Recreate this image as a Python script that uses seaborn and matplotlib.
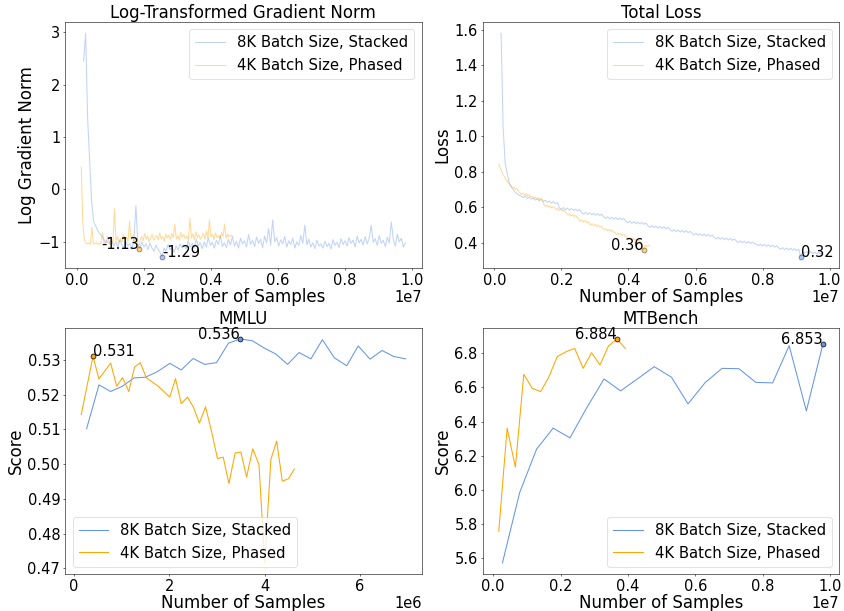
import numpy as np
import matplotlib
matplotlib.use("Agg")
import matplotlib.pyplot as plt
from matplotlib.ticker import MultipleLocator
import seaborn as sns

LABEL_8K = "8K Batch Size, Stacked"
LABEL_4K = "4K Batch Size, Phased"
COLOR_8K = "#6495ED"
COLOR_4K = "#FFA500"

# Training logs: sample count = start + step * log index
TRAIN_START_8K = 2.0e5
TRAIN_STEP_8K = 6.0e4
TRAIN_START_4K = 1.3e5
TRAIN_STEP_4K = 4.5e4

log_grad_norm_8k = [
    2.45, 2.98, 1.35, 0.55, -0.25, -0.62, -0.70, -0.78, -0.85, -0.88,
    -0.95, -1.02, -0.90, -1.05, -0.98, -1.08, -1.00, -1.10, -0.96, -1.06,
    -1.12, -0.99, -1.08, -1.03, -1.14, -0.95, -0.31, -1.05, -1.12, -1.00,
    -1.10, -1.04, -1.15, -1.02, -1.12, -1.18, -1.06, -1.14, -1.20, -1.29,
    -1.12, -1.18, -1.05, -1.15, -1.10, -1.20, -1.08, -1.16, -1.04, -1.12,
    -1.06, -1.14, -0.98, -1.10, -1.03, -1.12, -0.95, -1.08, -1.02, -1.13,
    -1.00, -1.10, -0.92, -1.07, -1.01, -1.12, -0.97, -1.05, -0.88, -1.09,
    -1.02, -1.11, -0.95, -1.06, -0.90, -1.08, -0.99, -1.12, -0.93, -1.04,
    -0.98, -1.10, -0.86, -1.05, -0.97, -1.09, -0.91, -1.03, -0.95, -1.11,
    -0.89, -1.02, -0.75, -1.06, -0.58, -1.00, -0.92, -1.08, -0.96, -1.04,
    -0.90, -1.10, -0.98, -1.05, -0.93, -1.12, -1.00, -1.07, -0.88, -1.03,
    -0.68, -1.06, -0.95, -1.10, -1.02, -1.13, -0.97, -1.08, -1.04, -1.12,
    -0.99, -1.09, -1.03, -1.14, -0.96, -1.07, -1.01, -1.11, -0.94, -1.05,
    -0.98, -1.08, -0.92, -1.03, -0.97, -1.10, -0.89, -1.02, -0.95, -1.06,
    -0.90, -1.04, -0.93, -0.68, -1.01, -0.94, -1.07, -0.88, -1.03, -0.97,
    -1.09, -0.91, -1.02, -0.62, -0.96, -1.08, -0.85, -1.00, -0.93, -1.10, -1.02,
]

log_grad_norm_4k = [
    0.42, -0.62, -0.95, -1.02, -1.04, -1.02, -1.05, -0.72, -1.03, -1.04,
    -1.01, -1.05, -1.03, -1.04, -0.82, -1.02, -1.05, -0.98, -1.03, -1.00,
    -0.92, -1.04, -0.37, -0.98, -0.90, -1.02, -0.94, -1.00, -0.86, -0.97,
    -0.91, -0.99, -0.60, -0.95, -0.88, -1.01, -0.93, -1.05, -1.13, -0.97,
    -0.90, -0.98, -0.84, -0.95, -0.89, -1.00, -0.92, -0.86, -0.97, -0.91,
    -0.88, -0.96, -0.83, -0.94, -0.90, -0.99, -0.85, -0.93, -0.87, -0.96,
    -0.84, -0.92, -0.66, -0.95, -0.88, -0.97, -0.82, -0.91, -0.86, -0.94,
    -0.89, -0.97, -0.55, -0.93, -0.85, -0.96, -0.81, -0.92, -0.87, -0.95,
    -0.90, -0.84, -0.95, -0.79, -0.93, -0.58, -0.91, -0.86, -0.96, -0.83,
    -0.92, -0.88, -0.94, -0.82, -0.90, -0.66, -0.93, -0.85, -0.91, -0.87, -0.89,
]

loss_8k = [
    1.58, 1.05, 0.85, 0.79, 0.74, 0.715, 0.70, 0.685, 0.675, 0.668,
    0.662, 0.655, 0.664, 0.650, 0.658, 0.646, 0.652, 0.640, 0.648, 0.636,
    0.644, 0.632, 0.640, 0.628, 0.636, 0.624, 0.632, 0.620, 0.627,
    0.596, 0.588, 0.598, 0.586, 0.595, 0.584, 0.593, 0.582, 0.590, 0.580, 0.588,
    0.570, 0.562, 0.572, 0.560, 0.569, 0.558, 0.566, 0.556, 0.564, 0.554, 0.561,
    0.546, 0.537, 0.547, 0.535, 0.544, 0.533, 0.542, 0.531, 0.540, 0.529, 0.537,
    0.521, 0.512, 0.522, 0.510, 0.519, 0.508, 0.517, 0.506, 0.515, 0.504, 0.512,
    0.496, 0.487, 0.497, 0.485, 0.494, 0.483, 0.492, 0.481, 0.490, 0.479, 0.487,
    0.474, 0.465, 0.475, 0.463, 0.472, 0.461, 0.470, 0.459, 0.468, 0.457, 0.465,
    0.452, 0.444, 0.453, 0.442, 0.451, 0.440, 0.449, 0.438, 0.447, 0.436, 0.444,
    0.430, 0.422, 0.431, 0.420, 0.429, 0.418, 0.427, 0.416, 0.425, 0.414, 0.422,
    0.410, 0.402, 0.411, 0.400, 0.409, 0.398, 0.407, 0.396, 0.405, 0.395,
    0.392, 0.384, 0.393, 0.382, 0.391, 0.380, 0.389, 0.378, 0.387, 0.376, 0.384,
    0.372, 0.364, 0.373, 0.362, 0.371, 0.360, 0.369, 0.358, 0.367, 0.356, 0.364,
    0.320, 0.350, 0.342, 0.352, 0.340, 0.350, 0.339, 0.348, 0.337, 0.347, 0.336, 0.344,
]

loss_4k = [
    0.845, 0.820, 0.800, 0.782, 0.770, 0.752, 0.745, 0.728, 0.722, 0.708,
    0.714, 0.700, 0.706, 0.692,
    0.682, 0.672, 0.680, 0.668, 0.676, 0.664, 0.671, 0.660,
    0.660, 0.650, 0.658, 0.646, 0.654, 0.642, 0.650, 0.638,
    0.615, 0.604, 0.612, 0.600, 0.608, 0.596, 0.604,
    0.598, 0.586, 0.594, 0.582, 0.590, 0.578, 0.586, 0.574,
    0.566, 0.555, 0.563, 0.551, 0.559, 0.547, 0.555, 0.543,
    0.532, 0.521, 0.529, 0.517, 0.525, 0.513, 0.520,
    0.510, 0.500, 0.508, 0.496, 0.504, 0.492, 0.500, 0.488, 0.495,
    0.482, 0.472, 0.480, 0.468, 0.476, 0.464, 0.472, 0.461,
    0.458, 0.448, 0.456, 0.444, 0.452, 0.440, 0.448, 0.437,
    0.432, 0.422, 0.430, 0.418, 0.426, 0.414, 0.422, 0.410, 0.418,
    0.398, 0.388, 0.360, 0.386, 0.378, 0.388, 0.380,
]

# Benchmark evaluations (samples in millions)
mmlu_samples_8k_m = [
    0.266, 0.525, 0.770, 1.015, 1.260, 1.500, 1.750, 2.010, 2.250, 2.500,
    2.740, 2.990, 3.240, 3.485, 3.740, 3.990, 4.230, 4.480, 4.720, 4.970,
    5.210, 5.460, 5.720, 5.960, 6.210, 6.460, 6.700, 6.950,
]
mmlu_8k = [
    0.5102, 0.5228, 0.5209, 0.5224, 0.5248, 0.5250, 0.5266, 0.5290, 0.5271, 0.5304,
    0.5287, 0.5292, 0.5348, 0.5360, 0.5355, 0.5334, 0.5317, 0.5287, 0.5321, 0.5303,
    0.5358, 0.5306, 0.5283, 0.5340, 0.5302, 0.5327, 0.5310, 0.5303,
]
mmlu_samples_4k_m = [
    0.154, 0.400, 0.525, 0.770, 0.896, 1.020, 1.150, 1.270, 1.390, 1.520,
    1.760, 2.010, 2.130, 2.250, 2.380, 2.505, 2.630, 2.760, 2.880, 3.010,
    3.130, 3.250, 3.380, 3.500, 3.620, 3.750, 3.880, 4.000, 4.130, 4.250,
    4.370, 4.500, 4.620,
]
mmlu_4k = [
    0.5143, 0.5310, 0.5245, 0.5291, 0.5224, 0.5249, 0.5209, 0.5279, 0.5292, 0.5248,
    0.5225, 0.5193, 0.5246, 0.5174, 0.5193, 0.5164, 0.5118, 0.5165, 0.5097, 0.5016,
    0.5020, 0.4944, 0.5032, 0.5035, 0.4963, 0.5044, 0.4999, 0.4716, 0.5014, 0.5066,
    0.4951, 0.4958, 0.4986,
]

# MTBench evaluations (samples in units of 1e7)
mtbench_samples_8k_e7 = [
    0.0277, 0.079, 0.129, 0.178, 0.228, 0.277, 0.329, 0.378, 0.429, 0.478,
    0.529, 0.578, 0.629, 0.679, 0.729, 0.779, 0.829, 0.878, 0.929, 0.978,
]
mtbench_8k = [
    5.573, 5.986, 6.239, 6.362, 6.305, 6.479, 6.650, 6.580, 6.652, 6.722,
    6.660, 6.504, 6.629, 6.712, 6.710, 6.630, 6.627, 6.845, 6.463, 6.853,
]
mtbench_samples_4k_e7 = [
    0.0168, 0.0416, 0.066, 0.091, 0.116, 0.141, 0.165, 0.190, 0.217, 0.242,
    0.267, 0.292, 0.317, 0.342, 0.367, 0.392,
]
mtbench_4k = [
    5.758, 6.362, 6.134, 6.677, 6.595, 6.576, 6.660, 6.781, 6.810, 6.829,
    6.712, 6.804, 6.732, 6.843, 6.884, 6.829,
]

DPI = 50
TITLE_FS = 24
LABEL_FS = 24
TICK_FS = 21
LEGEND_FS = 21.5
NOTE_FS = 21

plt.rcParams["font.family"] = ["DejaVu Sans"]
plt.rcParams["xtick.labelsize"] = TICK_FS
plt.rcParams["ytick.labelsize"] = TICK_FS

fig, axes = plt.subplots(2, 2, figsize=(845 / DPI, 611 / DPI), dpi=DPI)
fig.subplots_adjust(left=0.077, right=0.993, top=0.964, bottom=0.0605,
                    wspace=0.171, hspace=0.242)


def train_samples(start, step, values):
    return start + step * np.arange(len(values))


def mark_point(ax, x, y, text, color, ha, alpha=1.0):
    ax.scatter([x], [y], s=50, color=color, edgecolor="black",
               linewidth=1.0, alpha=alpha, zorder=5)
    ax.text(x, y, text, ha=ha, va="baseline", fontsize=NOTE_FS, zorder=6)


def draw_series(ax, x, y, color, label, alpha):
    sns.lineplot(x=np.asarray(x, float), y=np.asarray(y, float), ax=ax,
                 color=color, linewidth=1.5, alpha=alpha, label=label)


def style_axes(ax, title, ylabel, legend_loc):
    ax.set_title(title, fontsize=TITLE_FS)
    ax.set_xlabel("Number of Samples", fontsize=LABEL_FS, labelpad=0)
    ax.set_ylabel(ylabel, fontsize=LABEL_FS)
    ax.legend(loc=legend_loc, fontsize=LEGEND_FS)


x8 = train_samples(TRAIN_START_8K, TRAIN_STEP_8K, log_grad_norm_8k)
x4 = train_samples(TRAIN_START_4K, TRAIN_STEP_4K, log_grad_norm_4k)

# Log gradient norm
ax = axes[0, 0]
draw_series(ax, x8, log_grad_norm_8k, COLOR_8K, LABEL_8K, 0.4)
draw_series(ax, x4, log_grad_norm_4k, COLOR_4K, LABEL_4K, 0.4)
i8 = int(np.argmin(log_grad_norm_8k))
i4 = int(np.argmin(log_grad_norm_4k))
mark_point(ax, x8[i8], log_grad_norm_8k[i8], f"{log_grad_norm_8k[i8]:.2f}", COLOR_8K, "left", 0.5)
mark_point(ax, x4[i4], log_grad_norm_4k[i4], f"{log_grad_norm_4k[i4]:.2f}", COLOR_4K, "right", 0.5)
style_axes(ax, "Log-Transformed Gradient Norm", "Log Gradient Norm", "upper right")

# Total loss
ax = axes[0, 1]
lx8 = train_samples(TRAIN_START_8K, TRAIN_STEP_8K, loss_8k)
lx4 = train_samples(TRAIN_START_4K, TRAIN_STEP_4K, loss_4k)
draw_series(ax, lx8, loss_8k, COLOR_8K, LABEL_8K, 0.4)
draw_series(ax, lx4, loss_4k, COLOR_4K, LABEL_4K, 0.4)
i8 = int(np.argmin(loss_8k))
i4 = int(np.argmin(loss_4k))
mark_point(ax, lx8[i8], loss_8k[i8], f"{loss_8k[i8]:.2f}", COLOR_8K, "left", 0.5)
mark_point(ax, lx4[i4], loss_4k[i4], f"{loss_4k[i4]:.2f}", COLOR_4K, "right", 0.5)
style_axes(ax, "Total Loss", "Loss", "upper right")

# MMLU
ax = axes[1, 0]
mx8 = np.array(mmlu_samples_8k_m) * 1e6
mx4 = np.array(mmlu_samples_4k_m) * 1e6
draw_series(ax, mx8, mmlu_8k, COLOR_8K, LABEL_8K, 1.0)
draw_series(ax, mx4, mmlu_4k, COLOR_4K, LABEL_4K, 1.0)
i8 = int(np.argmax(mmlu_8k))
i4 = int(np.argmax(mmlu_4k))
mark_point(ax, mx8[i8], mmlu_8k[i8], f"{mmlu_8k[i8]:.3f}", COLOR_8K, "right")
mark_point(ax, mx4[i4], mmlu_4k[i4], f"{mmlu_4k[i4]:.3f}", COLOR_4K, "left")
ax.xaxis.set_major_locator(MultipleLocator(2e6))
style_axes(ax, "MMLU", "Score", "lower left")

# MTBench
ax = axes[1, 1]
tx8 = np.array(mtbench_samples_8k_e7) * 1e7
tx4 = np.array(mtbench_samples_4k_e7) * 1e7
draw_series(ax, tx8, mtbench_8k, COLOR_8K, LABEL_8K, 1.0)
draw_series(ax, tx4, mtbench_4k, COLOR_4K, LABEL_4K, 1.0)
i8 = int(np.argmax(mtbench_8k))
i4 = int(np.argmax(mtbench_4k))
mark_point(ax, tx8[i8], mtbench_8k[i8], f"{mtbench_8k[i8]:.3f}", COLOR_8K, "right")
mark_point(ax, tx4[i4], mtbench_4k[i4], f"{mtbench_4k[i4]:.3f}", COLOR_4K, "right")
style_axes(ax, "MTBench", "Score", "lower right")

fig.savefig("out.png", dpi=DPI)
